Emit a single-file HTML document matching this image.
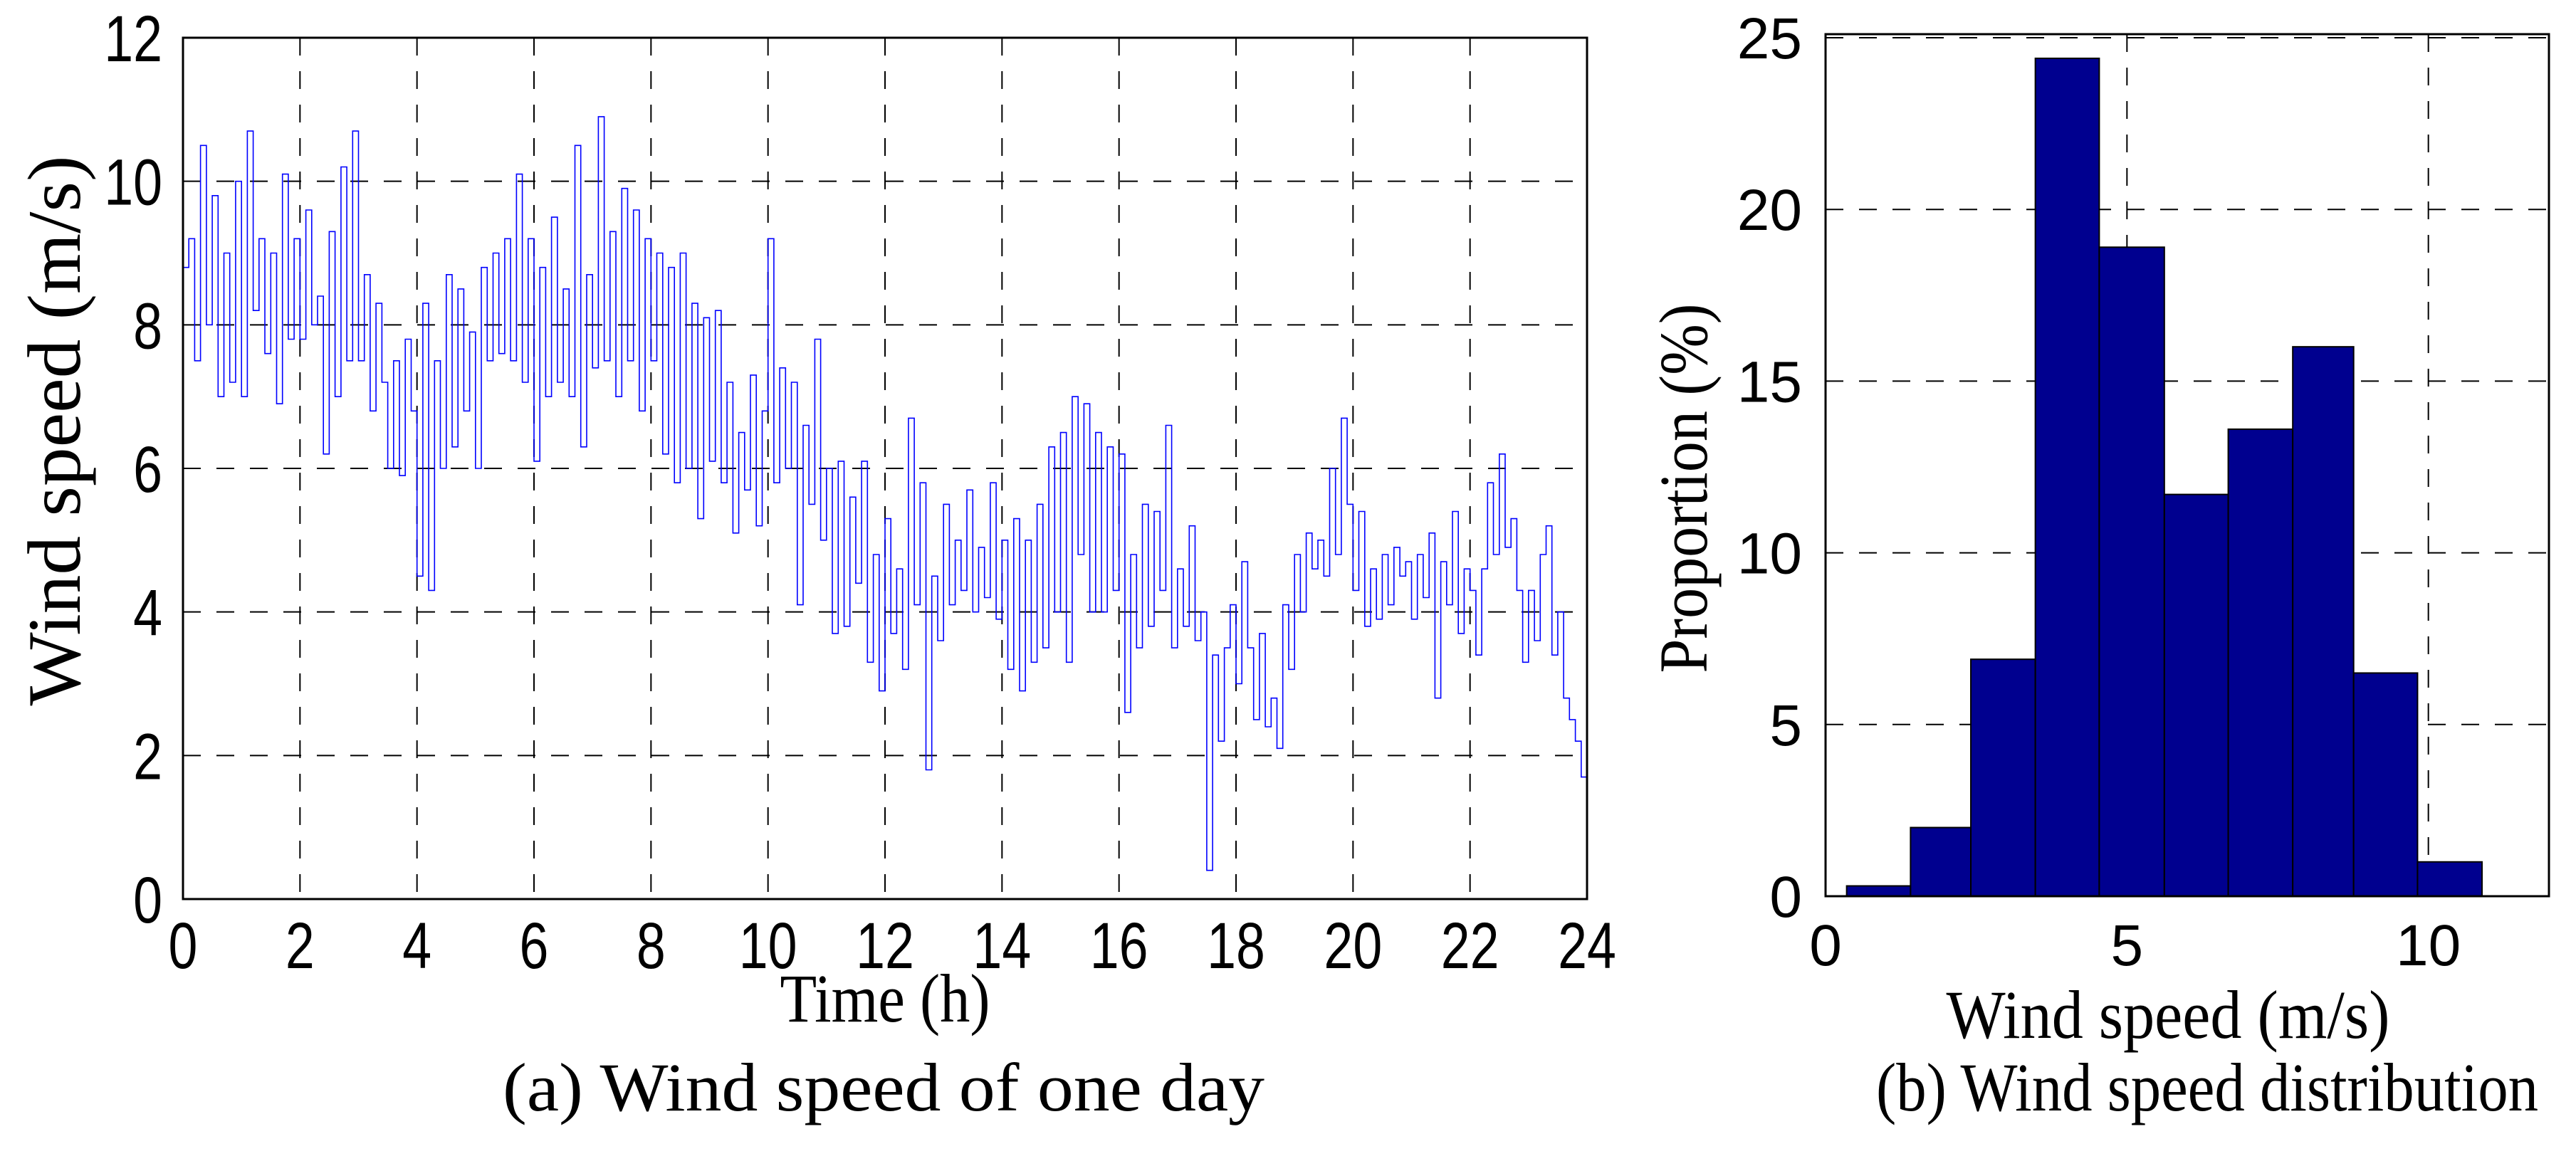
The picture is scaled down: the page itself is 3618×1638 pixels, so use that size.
<!DOCTYPE html>
<html><head><meta charset="utf-8"><style>html,body{margin:0;padding:0;background:#fff}svg{display:block}</style></head>
<body>
<svg id="fig" width="3618" height="1638" viewBox="0 0 3618 1638" xmlns="http://www.w3.org/2000/svg">
<g id="left"></g>
<g id="right"></g>
</svg>
<script>
const windHours = [0,24];
const windSpeed = [
8.8,9.2,7.5,10.5,8.0,9.8,7.0,9.0,7.2,10.0,
7.0,10.7,8.2,9.2,7.6,9.0,6.9,10.1,7.8,9.2,
7.8,9.6,8.0,8.4,6.2,9.3,7.0,10.2,7.5,10.7,
7.5,8.7,6.8,8.3,7.2,6.0,7.5,5.9,7.8,6.8,
4.5,8.3,4.3,7.5,6.0,8.7,6.3,8.5,6.8,7.9,
6.0,8.8,7.5,9.0,7.6,9.2,7.5,10.1,7.2,9.2,
6.1,8.8,7.0,9.5,7.2,8.5,7.0,10.5,6.3,8.7,
7.4,10.9,7.5,9.3,7.0,9.9,7.5,9.6,6.8,9.2,
7.5,9.0,6.2,8.8,5.8,9.0,6.0,8.3,5.3,8.1,
6.1,8.2,5.8,7.2,5.1,6.5,5.7,7.3,5.2,6.8,
9.2,5.8,7.4,6.0,7.2,4.1,6.6,5.5,7.8,5.0,
6.0,3.7,6.1,3.8,5.6,4.4,6.1,3.3,4.8,2.9,
5.3,3.7,4.6,3.2,6.7,4.1,5.8,1.8,4.5,3.6,
5.5,4.1,5.0,4.3,5.7,4.0,4.9,4.2,5.8,3.9,
5.0,3.2,5.3,2.9,5.0,3.3,5.5,3.5,6.3,4.0,
6.5,3.3,7.0,4.8,6.9,4.0,6.5,4.0,6.3,4.3,
6.2,2.6,4.8,3.5,5.5,3.8,5.4,4.3,6.6,3.5,
4.6,3.8,5.2,3.6,4.0,0.4,3.4,2.2,3.5,4.1,
3.0,4.7,3.5,2.5,3.7,2.4,2.8,2.1,4.1,3.2,
4.8,4.0,5.1,4.6,5.0,4.5,6.0,4.8,6.7,5.5,
4.3,5.4,3.8,4.6,3.9,4.8,4.1,4.9,4.5,4.7,
3.9,4.8,4.2,5.1,2.8,4.7,4.1,5.4,3.7,4.6,
4.3,3.4,4.6,5.8,4.8,6.2,4.9,5.3,4.3,3.3,
4.3,3.6,4.8,5.2,3.4,4.0,2.8,2.5,2.2,1.7,1.7];
const leftXTicks = [0,2,4,6,8,10,12,14,16,18,20,22,24];
const leftYTicks = [0,2,4,6,8,10,12];
const binEdges = [0.35,1.41,2.41,3.48,4.54,5.62,6.68,7.75,8.76,9.82,10.89];
const binProportion = [0.3,2.0,6.9,24.4,18.9,11.7,13.6,16.0,6.5,1.0];
const rightXTicks = [0,5,10];
const rightYTicks = [0,5,10,15,20,25];

const NS='http://www.w3.org/2000/svg';
function mk(parent,tag,attrs,text){const e=document.createElementNS(NS,tag);for(const k in attrs)e.setAttribute(k,attrs[k]);if(text!==undefined)e.textContent=text;parent.appendChild(e);return e;}
const SANS='"Liberation Sans", Arial, sans-serif';
const SERIF='"Liberation Serif", serif';
const FS=92;
const tl=s=>(s.length*0.556*FS*0.8).toFixed(1);

// LEFT
const L=document.getElementById('left');
const lx=v=>257+(v-0)/(24-0)*(2229-257);
const ly=v=>1263-(v/12)*(1263-53);
leftXTicks.forEach(t=>{
  if(t>0&&t<24){const g=mk(L,'line',{x1:lx(t),x2:lx(t),y1:53,y2:1263,stroke:'#000','stroke-width':2,'stroke-dasharray':'25,22'});
  
  }
  const tx=mk(L,'text',{x:lx(t),y:1360,'font-family':SANS,'font-size':FS,'text-anchor':'middle',textLength:tl(String(t)),lengthAdjust:'spacingAndGlyphs'},String(t));
  
  
});
leftYTicks.forEach(t=>{
  if(t>0&&t<12){const g=mk(L,'line',{x1:257,x2:2229,y1:ly(t),y2:ly(t),stroke:'#000','stroke-width':2,'stroke-dasharray':'25,22'});
  
  }
  const tx=mk(L,'text',{x:228,y:ly(t)+33,'font-family':SANS,'font-size':FS,'text-anchor':'end',textLength:tl(String(t)),lengthAdjust:'spacingAndGlyphs'},String(t));
  
  
});
const n=windSpeed.length;
let pts=[];
for(let i=0;i<n;i++){
  const t=windHours[0]+(windHours[1]-windHours[0])*i/(n-1);
  const tn=windHours[0]+(windHours[1]-windHours[0])*Math.min(i+1,n-1)/(n-1);
  pts.push(lx(t).toFixed(1)+','+ly(windSpeed[i]).toFixed(1));
  pts.push(lx(tn).toFixed(1)+','+ly(windSpeed[i]).toFixed(1));
}
const line=mk(L,'polyline',{points:pts.join(' '),fill:'none',stroke:'#0000ff','stroke-width':1.6});


const fr=mk(L,'rect',{x:257,y:53,width:2229-257,height:1263-53,fill:'none',stroke:'#000','stroke-width':3});


let t1=mk(L,'text',{x:76,y:605,'font-family':SERIF,'font-size':106,'text-anchor':'middle',transform:'rotate(-90 76 605) translate(0 36)',textLength:773,lengthAdjust:'spacingAndGlyphs'},'Wind speed (m/s)');


let t2=mk(L,'text',{x:1243,y:1435,'font-family':SERIF,'font-size':96,'text-anchor':'middle',textLength:295,lengthAdjust:'spacingAndGlyphs'},'Time (h)');


let t3=mk(L,'text',{x:1241,y:1560,'font-family':SERIF,'font-size':96,'text-anchor':'middle',textLength:1070,lengthAdjust:'spacingAndGlyphs'},'(a) Wind speed of one day');



// RIGHT
const R=document.getElementById('right');
const rx=v=>2564+v/12*(3580-2564);
const ry=v=>1259-v/25*(1259-53);
rightYTicks.forEach(t=>{
  if(t>0){const g=mk(R,'line',{x1:2564,x2:3580,y1:ry(t),y2:ry(t),stroke:'#000','stroke-width':2,'stroke-dasharray':'25,22'});
  
  }
  const tx=mk(R,'text',{x:2531,y:ry(t)+29,'font-family':SANS,'font-size':82,'text-anchor':'end'},String(t));
  
  
});
rightXTicks.forEach(t=>{
  if(t>0){const g=mk(R,'line',{x1:rx(t),x2:rx(t),y1:48,y2:1259,stroke:'#000','stroke-width':2,'stroke-dasharray':'25,22'});
  
  }
  const tx=mk(R,'text',{x:rx(t),y:1356,'font-family':SANS,'font-size':82,'text-anchor':'middle'},String(t));
  
  
});
binProportion.forEach((p,i)=>{
  const b=mk(R,'rect',{x:rx(binEdges[i]),y:ry(p),width:rx(binEdges[i+1])-rx(binEdges[i]),height:ry(0)-ry(p),fill:'#00008f',stroke:'#000','stroke-width':2});
  
  
});
const fr2=mk(R,'rect',{x:2564,y:48,width:3580-2564,height:1259-48,fill:'none',stroke:'#000','stroke-width':3});


let r1=mk(R,'text',{x:2365,y:686,'font-family':SERIF,'font-size':96,'text-anchor':'middle',transform:'rotate(-90 2365 686) translate(0 32)',textLength:519,lengthAdjust:'spacingAndGlyphs'},'Proportion (%)');


let r2=mk(R,'text',{x:3045,y:1458,'font-family':SERIF,'font-size':96,'text-anchor':'middle',textLength:623,lengthAdjust:'spacingAndGlyphs'},'Wind speed (m/s)');


let r3=mk(R,'text',{x:3100,y:1560,'font-family':SERIF,'font-size':96,'text-anchor':'middle',textLength:930,lengthAdjust:'spacingAndGlyphs'},'(b) Wind speed distribution');


</script>
</body></html>
